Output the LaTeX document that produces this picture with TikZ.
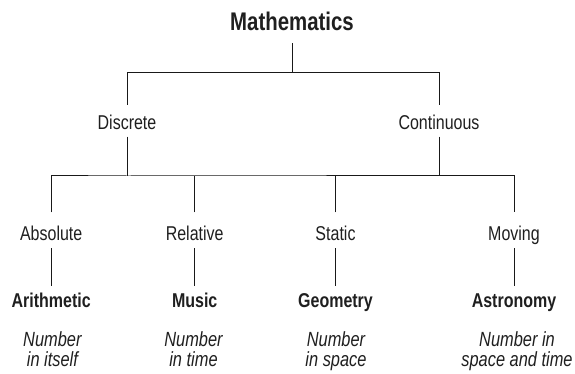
\documentclass[tikz,border=0pt]{standalone}
\usepackage{fontspec}
\setmainfont{Liberation Sans}[FakeStretch=0.8]
\begin{document}
\begin{tikzpicture}[x=1pt,y=-1pt,
  every node/.style={inner sep=0pt,outer sep=0pt,text=black!88},
  title/.style={font=\fontsize{25.5}{28}\selectfont\bfseries,text height=18.3pt,text depth=0pt,anchor=base},
  lvl/.style={font=\fontsize{20}{22}\selectfont,text height=14.3pt,text depth=0pt,anchor=base},
  subj/.style={font=\fontsize{20}{22}\selectfont\bfseries,text height=14.3pt,text depth=0pt,anchor=base},
  desc/.style={font=\fontsize{20.5}{20}\selectfont\itshape,align=center,anchor=north},
  conn/.style={draw=black!90,line width=1pt}]
\useasboundingbox (0,0) rectangle (575,374);
% nodes
\node[title] (math) at (292,30.5) {Mathematics};
\node[lvl] (disc) at (127,129.3) {Discrete};
\node[lvl] (cont) at (439,129.3) {Continuous};
\node[lvl] (abs) at (51.2,240.5) {Absolute};
\node[lvl] (rel) at (194.7,240.5) {Relative};
\node[lvl] (stat) at (335.5,240.5) {Static};
\node[lvl] (mov) at (514,240.5) {Moving};
\node[subj] (arith) at (51.2,307.3) {Arithmetic};
\node[subj] (music) at (194.7,307.3) {Music};
\node[subj] (geom) at (335.5,307.3) {Geometry};
\node[subj] (astro) at (514,307.3) {Astronomy};
\node[desc] (d1) at (52.4,332) {Number\\in itself};
\node[desc] (d2) at (193.5,332) {Number\\in time};
\node[desc] (d3) at (336,332) {Number\\in space};
\node[desc] (d4) at (517,332) {Number in\\space and time};
% junction coordinates
\coordinate (b1) at (292,72.7);
\coordinate (b2) at (0,176);
% connectors
\draw[conn] ([yshift=-12.8pt]math.base) -- (b1);
\draw[conn] ([yshift=10pt]disc.north) |- (b1) -| ([yshift=10pt]cont.north);
\draw[conn] ([yshift=-7.4pt]disc.base) -- (disc |- b2);
\draw[conn] ([yshift=-7.4pt]cont.base) -- (cont |- b2);
\draw[conn] ([yshift=13.9pt]abs.north) |- (disc |- b2) -| ([yshift=13.9pt]mov.north);
\draw[conn] ([yshift=13.9pt]rel.north) -- (rel |- b2);
\draw[conn] ([yshift=13.9pt]stat.north) -- (stat |- b2);
\draw[conn] ([yshift=-7.5pt]abs.base) -- ([yshift=7.5pt]arith.north);
\draw[conn] ([yshift=-7.5pt]rel.base) -- ([yshift=7.5pt]music.north);
\draw[conn] ([yshift=-7.5pt]stat.base) -- ([yshift=7.5pt]geom.north);
\draw[conn] ([yshift=-7.5pt]mov.base) -- ([yshift=7.5pt]astro.north);
\end{tikzpicture}
\end{document}
